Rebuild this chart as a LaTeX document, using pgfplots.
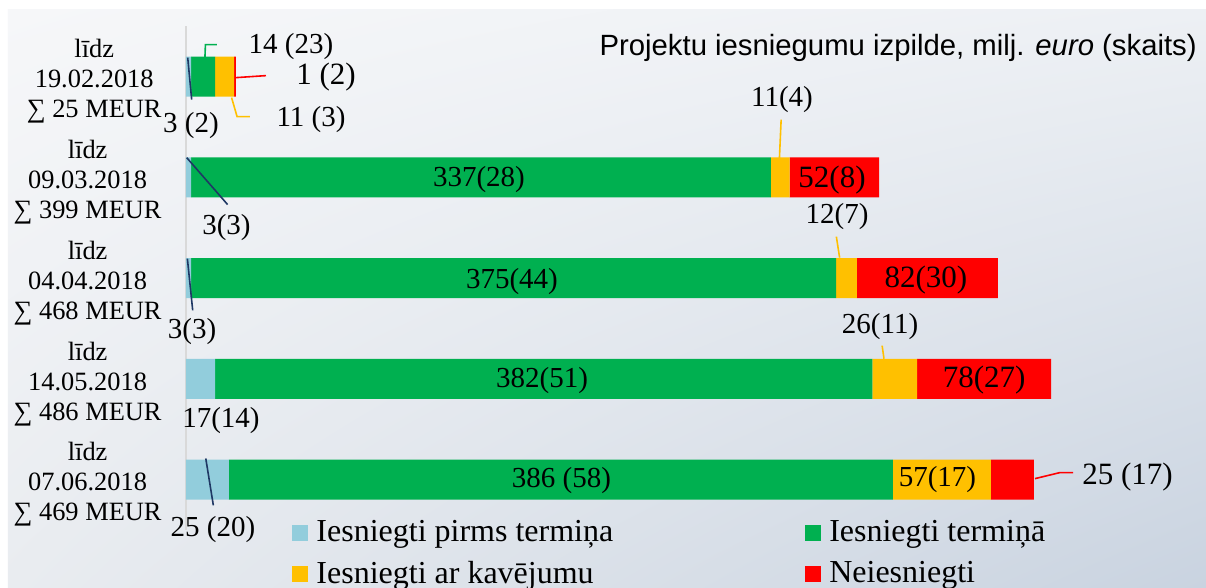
\documentclass[border=0pt]{standalone}
\usepackage{pgfplots}
\pgfplotsset{compat=1.18}
\usetikzlibrary{shadings}
\usepackage{fontspec}
\setmainfont{Liberation Serif}
\newfontfamily\arial{Liberation Sans}
\definecolor{cLB}{HTML}{92CDDC}
\definecolor{cGR}{HTML}{00B050}
\definecolor{cOR}{HTML}{FFC000}
\definecolor{cRD}{HTML}{FF0000}
\definecolor{cNV}{HTML}{1F3864}
\definecolor{axgray}{HTML}{D9D9D9}
\definecolor{bgA}{HTML}{F6F7F9}
\definecolor{bgB}{HTML}{EDF0F4}
\definecolor{bgC}{HTML}{E9ECF0}
\definecolor{bgD}{HTML}{C9D3E0}
\tikzset{
  lab/.style={font=\fontsize{14.5}{17}\selectfont, inner sep=0pt},
  labb/.style={font=\fontsize{15.5}{18}\selectfont, inner sep=0pt},
  ldr/.style={line width=0.8pt},
}
\pgfplotsset{sq/.style={legend image code/.code={\fill[#1] (0pt,-4pt) rectangle (8pt,4pt);}}}
\newcommand\annot{%
% leader lines
\draw[cGR, ldr] (axis cs:11.0,-0.189) -- (axis cs:11.3,-0.318) -- (axis cs:18.0,-0.318);
\draw[cRD, ldr] (axis cs:29,0.01) -- (axis cs:46.5,-0.01);
\draw[cOR, ldr] (axis cs:26.5,0.208) -- (axis cs:29.7,0.397) -- (axis cs:37.2,0.397);
\draw[cNV, ldr] (axis cs:1.0,-0.189) -- (axis cs:3.3,0.228);
\draw[cNV, ldr] (axis cs:0.4,0.804) -- (axis cs:24.2,1.270);
\draw[cOR, ldr] (axis cs:346,0.427) -- (axis cs:345,0.814);
\draw[cNV, ldr] (axis cs:0.8,1.806) -- (axis cs:3.9,2.320);
\draw[cOR, ldr] (axis cs:378.1,1.588) -- (axis cs:380,1.797);
\draw[cOR, ldr] (axis cs:404.7,2.67) -- (axis cs:405.8,2.80);
\draw[cNV, ldr] (axis cs:11.5,3.79) -- (axis cs:15.9,4.255);
\draw[cRD, ldr] (axis cs:493.6,3.99) -- (axis cs:508.1,3.93) -- (axis cs:515.7,3.93);
% value labels
\node[lab] at (axis cs:61,-0.298) {14 (23)};
\node[labb] at (axis cs:81.4,0.0) {1 (2)};
\node[lab] at (axis cs:72.7,0.427) {11 (3)};
\node[lab] at (axis cs:2.9,0.486) {3 (2)};
\node[lab] at (axis cs:170.3,1.022) {337(28)};
\node[lab] at (axis cs:23.5,1.499) {3(3)};
\node[lab] at (axis cs:346.5,0.228) {11(4)};
\node[labb] at (axis cs:375.6,1.03) {52(8)};
\node[lab] at (axis cs:189.5,2.035) {375(44)};
\node[lab] at (axis cs:3.5,2.53) {3(3)};
\node[lab] at (axis cs:378.5,1.39) {12(7)};
\node[labb] at (axis cs:430.2,2.015) {82(30)};
\node[lab] at (axis cs:207,3.015) {382(51)};
\node[lab] at (axis cs:403.5,2.48) {26(11)};
\node[labb] at (axis cs:464,3.015) {78(27)};
\node[lab] at (axis cs:20.3,3.415) {17(14)};
\node[lab] at (axis cs:218.3,4.01) {386 (58)};
\node[lab] at (axis cs:436.9,4.0) {57(17)};
\node[labb] at (axis cs:547.4,3.97) {25 (17)};
\node[lab] at (axis cs:15.7,4.496) {25 (20)};
% title
\node[anchor=base east, inner sep=0pt, font=\arial\fontsize{14.65}{17}\selectfont] at (axis cs:587.8,-0.21) {Projektu iesniegumu izpilde, milj. \textit{euro} (skaits)};
}
\begin{document}
\begin{tikzpicture}
\fill[white] (-93pt,-29pt) rectangle (510pt,265pt);
\shade[upper left=bgA, upper right=bgB, lower left=bgC, lower right=bgD] (-89pt,-29pt) rectangle (510pt,260pt);
\begin{axis}[
  at={(0,0)}, anchor=south west,
  scale only axis, width=510pt, height=251.875pt,
  xmin=0, xmax=593, ymin=-0.5, ymax=4.5, y dir=reverse,
  xbar stacked, bar width=20pt,
  axis x line=none, axis y line=left,
  axis line style={draw=axgray, line width=0.75pt, -},
  y axis line style={-},
  ytick={0,1,2,3,4},
  yticklabels={{līdz\\19.02.2018\\∑ 25 MEUR},{līdz\\09.03.2018\\∑ 399 MEUR},{līdz\\04.04.2018\\∑ 468 MEUR},{līdz\\14.05.2018\\∑ 486 MEUR},{līdz\\07.06.2018\\∑ 469 MEUR}},
  major tick length=0pt,
  yticklabel style={align=center, font=\fontsize{13.2}{15}\selectfont, inner sep=0pt, xshift=-12pt, yshift=-2.5pt, anchor=east},
  clip=false,
  legend columns=2,
  legend cell align=left,
  legend style={draw=none, fill=none, at={(0.104,0.027)}, anchor=north west,
    font=\fontsize{16}{19}\selectfont, inner sep=0pt,
    nodes={inner ysep=2pt, inner xsep=4pt}, row sep=4pt,
    /tikz/column 2/.style={column sep=92pt}},
  after end axis/.code={\annot},
]
\addplot[fill=cLB, draw=none, sq] coordinates {(3,0) (3,1) (3,2) (17,3) (25,4)};
\addplot[fill=cGR, draw=none, sq] coordinates {(14,0) (337,1) (375,2) (382,3) (386,4)};
\addplot[fill=cOR, draw=none, sq] coordinates {(11,0) (11,1) (12,2) (26,3) (57,4)};
\addplot[fill=cRD, draw=none, sq] coordinates {(1,0) (52,1) (82,2) (78,3) (25,4)};
\addlegendentry{Iesniegti pirms termiņa}
\addlegendentry{Iesniegti termiņā}
\addlegendentry{Iesniegti ar kavējumu}
\addlegendentry{Neiesniegti}
\end{axis}
\pgfresetboundingbox
\useasboundingbox (-93pt,-29pt) rectangle (510pt,265pt);
\end{tikzpicture}
\end{document}
